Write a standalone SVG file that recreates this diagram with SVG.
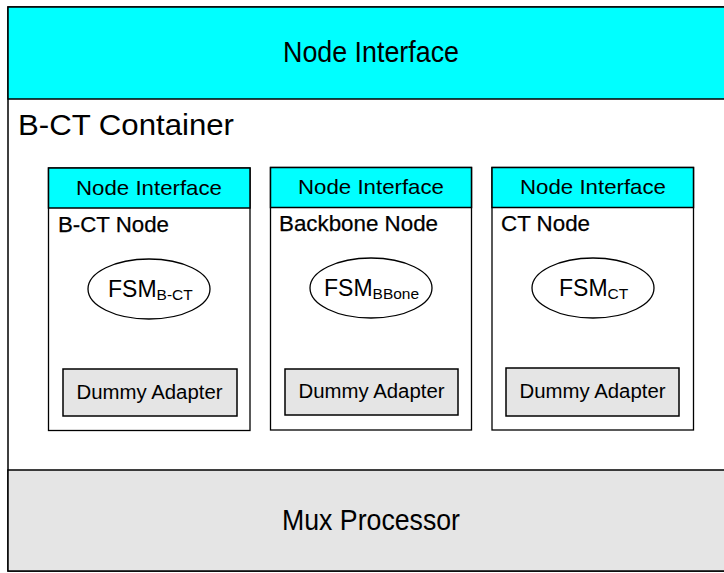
<svg xmlns="http://www.w3.org/2000/svg" width="724" height="573" viewBox="0 0 724 573">
<style>
  .ln{stroke:#000;stroke-width:1.5;fill:none}
  .cy{fill:#00ffff;stroke:#000;stroke-width:1.5}
  .gy{fill:#e5e5e5;stroke:#000;stroke-width:1.5}
  .wh{fill:#fff;stroke:#000;stroke-width:1.3}
  .t{font-family:"Liberation Sans",Arial,sans-serif;fill:#000}
  .big{font-size:30px}
  .hdr{font-size:21px}
  .lbl{font-size:22px;stroke:#000;stroke-width:0.25}
  .fsm{font-size:23px}
  .da{font-size:20px}
</style>
<rect width="724" height="573" fill="#fff"/>
<g id="container">
  <rect x="8" y="7" width="730" height="564" class="ln" fill="#fff"/>
  <text x="18" y="135" class="t" font-size="30" textLength="216" lengthAdjust="spacingAndGlyphs">B-CT Container</text>
</g>
<g id="top-interface">
  <rect x="8" y="7" width="730" height="92" class="cy"/>
  <text x="371" y="62" class="t big" text-anchor="middle" textLength="176" lengthAdjust="spacingAndGlyphs">Node Interface</text>
</g>
<g id="mux-processor">
  <rect x="8" y="470" width="730" height="101" class="gy"/>
  <text x="371" y="530" class="t big" text-anchor="middle" textLength="178" lengthAdjust="spacingAndGlyphs">Mux Processor</text>
</g>
<g id="bct-node">
  <rect x="48.5" y="168" width="201.5" height="262.5" class="wh"/>
  <rect x="48.5" y="168" width="201.5" height="40" class="cy" stroke-width="1.3"/>
  <text x="149" y="195" class="t hdr" text-anchor="middle" textLength="146" lengthAdjust="spacingAndGlyphs">Node Interface</text>
  <text x="58" y="232" class="t lbl" textLength="111" lengthAdjust="spacingAndGlyphs">B-CT Node</text>
  <ellipse cx="149" cy="289" rx="61" ry="30" class="wh"/>
  <text x="108" y="297" class="t fsm">FSM<tspan font-size="15.5" dy="3">B-CT</tspan></text>
  <rect x="63" y="369" width="174" height="47" class="gy" stroke-width="1.3"/>
  <text x="149.5" y="399" class="t da" text-anchor="middle" textLength="146" lengthAdjust="spacingAndGlyphs">Dummy Adapter</text>
</g>
<g id="backbone-node">
  <rect x="270.5" y="167.5" width="201" height="262.5" class="wh"/>
  <rect x="270.5" y="167.5" width="201" height="40" class="cy" stroke-width="1.3"/>
  <text x="371" y="194" class="t hdr" text-anchor="middle" textLength="146" lengthAdjust="spacingAndGlyphs">Node Interface</text>
  <text x="279" y="231" class="t lbl" textLength="159" lengthAdjust="spacingAndGlyphs">Backbone Node</text>
  <ellipse cx="371" cy="288" rx="61" ry="30" class="wh"/>
  <text x="324" y="296" class="t fsm">FSM<tspan font-size="15.5" dy="3">BBone</tspan></text>
  <rect x="285" y="369" width="173" height="46" class="gy" stroke-width="1.3"/>
  <text x="371.5" y="398" class="t da" text-anchor="middle" textLength="146" lengthAdjust="spacingAndGlyphs">Dummy Adapter</text>
</g>
<g id="ct-node">
  <rect x="492" y="167.5" width="201.5" height="262.5" class="wh"/>
  <rect x="492" y="167.5" width="201.5" height="40" class="cy" stroke-width="1.3"/>
  <text x="593" y="194" class="t hdr" text-anchor="middle" textLength="146" lengthAdjust="spacingAndGlyphs">Node Interface</text>
  <text x="501" y="231" class="t lbl" textLength="89" lengthAdjust="spacingAndGlyphs">CT Node</text>
  <ellipse cx="593" cy="288" rx="61" ry="30" class="wh"/>
  <text x="559" y="296" class="t fsm">FSM<tspan font-size="15.5" dy="3">CT</tspan></text>
  <rect x="506" y="368" width="173" height="48" class="gy" stroke-width="1.3"/>
  <text x="592.5" y="398" class="t da" text-anchor="middle" textLength="146" lengthAdjust="spacingAndGlyphs">Dummy Adapter</text>
</g>
<g id="connectors"/>
</svg>
